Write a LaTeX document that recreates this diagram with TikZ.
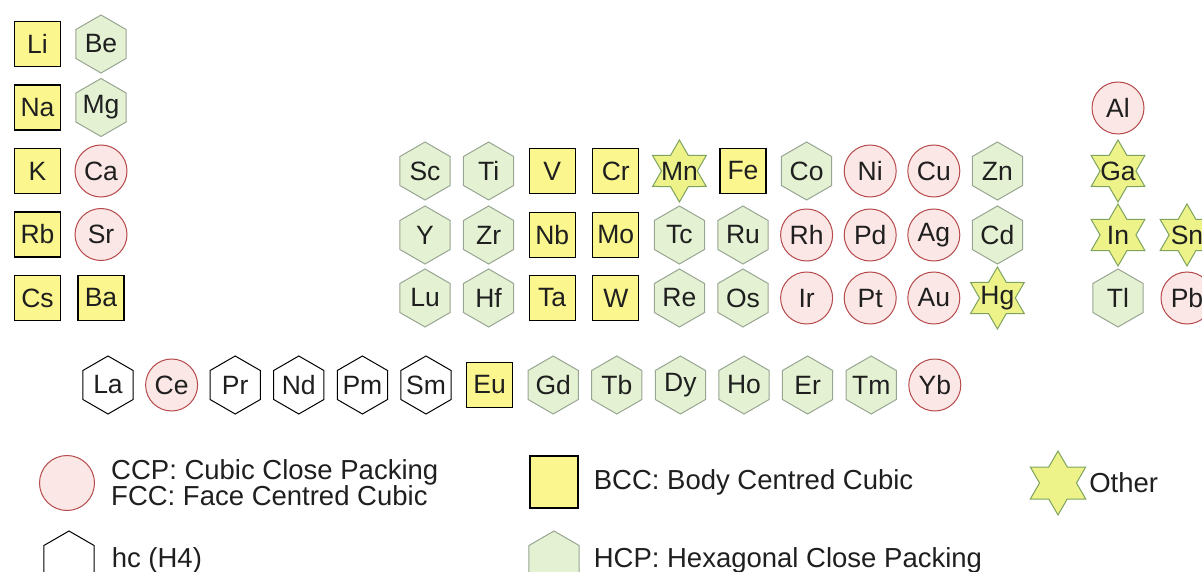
\documentclass[tikz,border=0pt]{standalone}
\usepackage{fontspec}
\setmainfont{Liberation Sans}
\usepackage{tikz}
\usetikzlibrary{positioning, shapes.geometric}

\definecolor{bccfill}{HTML}{FBF78E}
\definecolor{hcpfill}{HTML}{E4F2D3}
\definecolor{hcpline}{HTML}{98A592}
\definecolor{ccpfill}{HTML}{FBE7E5}
\definecolor{ccpline}{HTML}{B5494B}
\definecolor{othfill}{HTML}{EDF389}
\definecolor{othline}{HTML}{7DA35E}

\begin{document}
\begin{tikzpicture}[
    x=1pt, y=-1pt,
    every node/.style={font=\fontsize{26.5}{30}\selectfont, inner sep=0pt, text=black!88},
    bcc/.style={draw=black, line width=1.3pt, fill=bccfill, minimum width=46pt, minimum height=45pt},
    hcp/.style={regular polygon, regular polygon sides=6, regular polygon rotate=30, minimum size=58pt, draw=hcpline, line width=1pt, fill=hcpfill},
    hc/.style={regular polygon, regular polygon sides=6, regular polygon rotate=30, minimum size=58pt, draw=black, line width=1pt, fill=white},
    ccp/.style={circle, minimum size=52pt, draw=ccpline, line width=1pt, fill=ccpfill},
    oth/.style={star, star points=6, star point ratio=1.732, minimum size=62pt, draw=othline, line width=1pt, fill=othfill},
    lgd/.style={font=\fontsize{27.5}{26}\selectfont, align=left}
]
\useasboundingbox (0,0) rectangle (1202,572);

% groups 1 and 2
\foreach \el/\st [count=\i from 0] in {Li/bcc, Na/bcc, K/bcc, Rb/bcc, Cs/bcc}
  \node[\st, label=center:\el] (\el) at (37.5, {44+63.5*\i}) {};
\foreach \el/\st [count=\i from 0] in {Be/hcp, Mg/hcp, Ca/ccp, Sr/ccp, Ba/bcc}
  \node[\st, label=center:\el] (\el) at (101, {44+63.5*\i}) {};

% transition metals
\foreach \el/\st [count=\i from 0] in {Sc/hcp, Ti/hcp, V/bcc, Cr/bcc, Mn/oth, Fe/bcc, Co/hcp, Ni/ccp, Cu/ccp, Zn/hcp}
  \node[\st, label=center:\el] (\el) at ({425+63.6*\i}, 171) {};
\foreach \el/\st [count=\i from 0] in {Y/hcp, Zr/hcp, Nb/bcc, Mo/bcc, Tc/hcp, Ru/hcp, Rh/ccp, Pd/ccp, Ag/ccp, Cd/hcp}
  \node[\st, label=center:\el] (\el) at ({425+63.6*\i}, 235) {};
\foreach \el/\st [count=\i from 0] in {Lu/hcp, Hf/hcp, Ta/bcc, W/bcc, Re/hcp, Os/hcp, Ir/ccp, Pt/ccp, Au/ccp, Hg/oth}
  \node[\st, label=center:\el] (\el) at ({425+63.6*\i}, 298) {};

% main group
\node[ccp, label=center:Al] (Al) at (1118, 108) {};
\node[oth, label=center:Ga] (Ga) at (1118, 171) {};
\node[oth, label=center:In] (In) at (1118, 235) {};
\node[oth, label=center:Sn] (Sn) at (1187, 235) {};
\node[hcp, label=center:Tl] (Tl) at (1118, 298) {};
\node[ccp, label=center:Pb] (Pb) at (1187, 298) {};

% lanthanides
\foreach \el/\st [count=\i from 0] in {La/hc, Ce/ccp, Pr/hc, Nd/hc, Pm/hc, Sm/hc, Eu/bcc, Gd/hcp, Tb/hcp, Dy/hcp, Ho/hcp, Er/hcp, Tm/hcp, Yb/ccp}
  \node[\st, label=center:\el] (\el) at ({108+63.6*\i}, 385) {};

% legend
\node[ccp, minimum size=55pt] (kccp) at (67, 483) {};
\node[lgd, right=16pt of kccp] (tccp) {CCP: Cubic Close Packing\\FCC: Face Centred Cubic};
\node[hc] (khc) at (69, 560) {};
\node[lgd, right=17pt of khc] (thc) {hc (H4)};
\node[bcc, minimum width=48pt, minimum height=52pt] (kbcc) at (554, 482) {};
\node[lgd, right=15pt of kbcc] (tbcc) {BCC: Body Centred Cubic};
\node[hcp] (khcp) at (554, 560) {};
\node[lgd, right=14pt of khcp] (thcp) {HCP: Hexagonal Close Packing};
\node[oth, minimum size=64pt] (koth) at (1058, 483) {};
\node[lgd, right=12pt of koth] (toth) {Other};
\end{tikzpicture}
\end{document}
